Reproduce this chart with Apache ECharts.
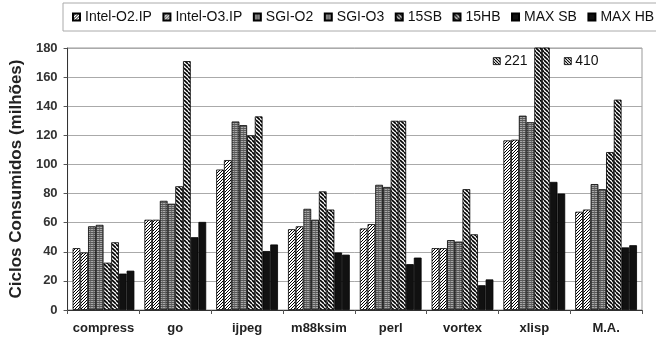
<!DOCTYPE html>
<html>
<head>
<meta charset="utf-8">
<script src="https://cdn.jsdelivr.net/npm/echarts@6/dist/echarts.min.js"></script>
<style>
  html, body { margin: 0; padding: 0; background: #fff; }
  #chart { width: 656px; height: 340px; }
</style>
</head>
<body>
<div id="chart"></div>
<script>
// Benchmarks and cycle counts (millions)
const categories = ['compress', 'go', 'ijpeg', 'm88ksim', 'perl', 'vortex', 'xlisp', 'M.A.'];
const seriesNames = ['Intel-O2.IP', 'Intel-O3.IP', 'SGI-O2', 'SGI-O3', '15SB', '15HB', 'MAX SB', 'MAX HB'];

const intelO2 = [42.5, 62, 96.5, 55.5, 56, 42.5, 116.5, 67.5];
const intelO3 = [39.5, 62, 103, 57.5, 59, 42.5, 117, 69];
const sgiO2   = [57.5, 75, 129.5, 69.5, 86, 48, 133.5, 86.5];
const sgiO3   = [58.5, 73, 127, 62, 84.5, 47, 129, 83];
const sb15    = [32.5, 85, 120, 81.5, 130, 83, 221, 108.5];
const hb15    = [46.5, 171, 133, 69, 130, 52, 410, 144.5];
const maxSB   = [25, 50, 40.5, 39.5, 31.5, 17, 88, 43];
const maxHB   = [27, 60.5, 45, 38, 36, 21, 80, 44.5];

const yMin = 0, yMax = 180, yStep = 20;

// Fill patterns
function diagonal(size, lw, forward) {
  const c = document.createElement('canvas');
  c.width = size; c.height = size;
  const g = c.getContext('2d');
  g.fillStyle = '#fff'; g.fillRect(0, 0, size, size);
  g.strokeStyle = '#000'; g.lineWidth = lw;
  for (const o of [-size, 0, size]) {
    g.beginPath();
    if (forward) { g.moveTo(o, size); g.lineTo(o + size, 0); }
    else { g.moveTo(o, 0); g.lineTo(o + size, size); }
    g.stroke();
  }
  return c;
}
function gridFill() {
  const c = document.createElement('canvas');
  c.width = 3; c.height = 2;
  const g = c.getContext('2d');
  g.fillStyle = '#a8a8a8'; g.fillRect(0, 0, 3, 2);
  g.fillStyle = '#5a5a5a'; g.fillRect(0, 0, 3, 1);
  g.fillStyle = '#777'; g.fillRect(0, 1, 1, 1);
  return c;
}
const intelPat = { image: diagonal(3, 1.0, true), repeat: 'repeat' };
const sgiPat   = { image: gridFill(), repeat: 'repeat' };
const hbPat    = { image: diagonal(4, 1.6, false), repeat: 'repeat' };
const solid    = '#111';

const valueSets = [intelO2, intelO3, sgiO2, sgiO3, sb15, hb15, maxSB, maxHB];
const fills = [intelPat, intelPat, sgiPat, sgiPat, hbPat, hbPat, solid, solid];

const series = seriesNames.map((name, i) => ({
  name,
  type: 'bar',
  data: valueSets[i],
  barGap: '0%',
  barCategoryGap: '14%',
  itemStyle: { color: fills[i], borderColor: '#000', borderWidth: 0.8 },
  emphasis: { disabled: true }
}));

const font = 'Liberation Sans, Arial, sans-serif';
const chart = echarts.init(document.getElementById('chart'), null, { renderer: 'canvas' });
chart.setOption({
  animation: false,
  backgroundColor: '#fff',
  textStyle: { fontFamily: font },
  grid: { left: 64, right: 14, top: 48, bottom: 30, show: true, borderColor: '#999', borderWidth: 1 },
  legend: {
    data: seriesNames,
    left: 63, top: 3, width: 720,
    padding: [7, 12, 7, 9],
    itemWidth: 7, itemHeight: 7, itemGap: 10.5,
    icon: 'rect',
    borderColor: '#aaa', borderWidth: 1,
    textStyle: { fontSize: 14, color: '#111' }
  },
  xAxis: {
    type: 'category',
    data: categories,
    axisLine: { lineStyle: { color: '#333', width: 1 } },
    axisTick: { show: true, length: 4, lineStyle: { color: '#555' } },
    axisLabel: { interval: 0, fontSize: 13, fontWeight: 'bold', color: '#222', margin: 12 }
  },
  yAxis: {
    type: 'value',
    min: yMin, max: yMax, interval: yStep,
    name: 'Ciclos Consumidos (milhões)',
    nameLocation: 'middle',
    nameGap: 41,
    nameTextStyle: { fontSize: 17, fontWeight: 'bold', color: '#222' },
    axisLine: { show: true, lineStyle: { color: '#333', width: 1 } },
    axisTick: { show: true, length: 4, lineStyle: { color: '#555' } },
    axisLabel: { fontSize: 13, fontWeight: 'bold', color: '#333', margin: 10 },
    splitLine: { lineStyle: { color: '#aaa', width: 1 } }
  },
  series
});

// Values of the clipped xlisp bars, written beside them
const xi = categories.indexOf('xlisp');
const p = chart.convertToPixel({ xAxisIndex: 0, yAxisIndex: 0 }, [xi, 171]);
const tagFill = { image: diagonal(3, 1.1, false), repeat: 'repeat' };
function tag(x, y, text) {
  return [
    { type: 'rect', shape: { x: x, y: y - 3.5, width: 7, height: 7 },
      style: { fill: tagFill, stroke: '#000', lineWidth: 0.8 }, z: 10 },
    { type: 'text', x: x + 11, y: y, z: 10,
      style: { text: text, fontSize: 14, fill: '#111', verticalAlign: 'middle', fontFamily: font } }
  ];
}
chart.setOption({
  graphic: [
    ...tag(p[0] - 41, p[1], String(sb15[xi])),
    ...tag(p[0] + 30, p[1], String(hb15[xi]))
  ]
});
</script>
</body>
</html>
